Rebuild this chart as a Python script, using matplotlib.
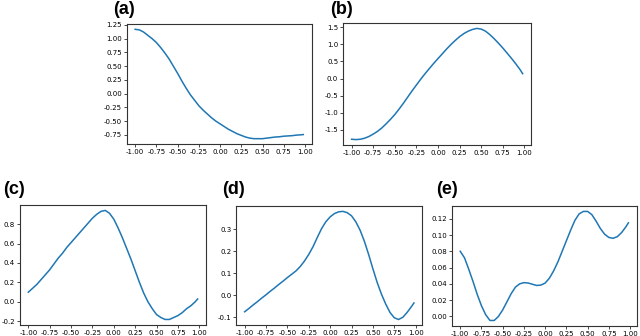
import numpy as np
import matplotlib
matplotlib.use("Agg")
import matplotlib.pyplot as plt
from matplotlib.ticker import FormatStrFormatter

# sample positions along x (-1 .. 0.98)
x = np.round(np.append(np.arange(-1.0, 0.951, 0.05), 0.98), 2)

y_a = [1.17, 1.16, 1.12, 1.06, 1.00, 0.93, 0.84, 0.74, 0.63, 0.50,
       0.37, 0.23, 0.10, -0.02, -0.12, -0.22, -0.30, -0.37, -0.44, -0.50,
       -0.55, -0.60, -0.65, -0.69, -0.73, -0.76, -0.79, -0.81, -0.82, -0.82,
       -0.82, -0.81, -0.80, -0.79, -0.785, -0.775, -0.77, -0.765, -0.755, -0.75,
       -0.745]

y_b = [-1.77, -1.78, -1.77, -1.74, -1.69, -1.62, -1.54, -1.44, -1.32, -1.19,
       -1.05, -0.89, -0.72, -0.54, -0.36, -0.19, -0.02, 0.14, 0.29, 0.44,
       0.58, 0.72, 0.86, 0.99, 1.11, 1.22, 1.31, 1.38, 1.43, 1.46,
       1.44, 1.38, 1.28, 1.16, 1.03, 0.89, 0.74, 0.59, 0.43, 0.26,
       0.14]

y_c = [0.10, 0.14, 0.18, 0.23, 0.28, 0.33, 0.39, 0.45, 0.50, 0.56,
       0.61, 0.66, 0.71, 0.76, 0.81, 0.86, 0.90, 0.93, 0.94, 0.91,
       0.85, 0.76, 0.66, 0.55, 0.44, 0.32, 0.20, 0.09, 0.00, -0.07,
       -0.13, -0.16, -0.18, -0.18, -0.16, -0.14, -0.11, -0.07, -0.04, 0.00,
       0.03]

y_d = [-0.075, -0.060, -0.044, -0.029, -0.013, 0.002, 0.018, 0.033, 0.049, 0.064,
       0.080, 0.095, 0.110, 0.130, 0.155, 0.185, 0.220, 0.262, 0.302, 0.333,
       0.355, 0.370, 0.378, 0.380, 0.374, 0.360, 0.333, 0.295, 0.245, 0.185,
       0.120, 0.058, 0.005, -0.040, -0.078, -0.102, -0.110, -0.100, -0.078, -0.052,
       -0.035]

y_e = [0.080, 0.072, 0.058, 0.043, 0.027, 0.013, 0.002, -0.005, -0.005, 0.000,
       0.008, 0.018, 0.028, 0.036, 0.040, 0.0415, 0.041, 0.0395, 0.038, 0.0385,
       0.041, 0.047, 0.056, 0.067, 0.080, 0.093, 0.106, 0.118, 0.126, 0.129,
       0.129, 0.125, 0.117, 0.108, 0.101, 0.097, 0.096, 0.098, 0.103, 0.110,
       0.115]

panel_labels = ['(a)', '(b)', '(c)', '(d)', '(e)']
xticks = [-1.0, -0.75, -0.5, -0.25, 0.0, 0.25, 0.5, 0.75, 1.0]
yticks = [
    [-0.75, -0.5, -0.25, 0.0, 0.25, 0.5, 0.75, 1.0, 1.25],
    [-1.5, -1.0, -0.5, 0.0, 0.5, 1.0, 1.5],
    [-0.2, 0.0, 0.2, 0.4, 0.6, 0.8],
    [-0.1, 0.0, 0.1, 0.2, 0.3],
    [0.0, 0.02, 0.04, 0.06, 0.08, 0.10, 0.12],
]
yfmt = ['%.2f', '%.1f', '%.1f', '%.1f', '%.2f']
series = [y_a, y_b, y_c, y_d, y_e]

fig = plt.figure(figsize=(6.4, 3.36), dpi=100)

# axes boxes [left, bottom, width, height] and label spots, in figure fraction
boxes = [
    [0.198, 0.571, 0.289, 0.358],
    [0.536, 0.568, 0.294, 0.364],
    [0.031, 0.033, 0.291, 0.357],
    [0.369, 0.033, 0.291, 0.354],
    [0.706, 0.030, 0.289, 0.357],
]
label_pos = [(0.177, 0.997), (0.516, 0.997), (0.005, 0.462), (0.347, 0.462), (0.681, 0.462)]

for i in range(5):
    ax = fig.add_axes(boxes[i])
    ax.plot(x, series[i], color='#1f77b4', linewidth=1.1)
    ax.set_xticks(xticks)
    ax.set_yticks(yticks[i])
    ax.xaxis.set_major_formatter(FormatStrFormatter('%.2f'))
    ax.yaxis.set_major_formatter(FormatStrFormatter(yfmt[i]))
    ax.tick_params(labelsize=5, length=2, width=0.5, pad=1.5)
    for sp in ax.spines.values():
        sp.set_linewidth(0.8)
        sp.set_color('#333333')
    fig.text(label_pos[i][0], label_pos[i][1], panel_labels[i],
             fontsize=13, fontweight='bold', family='Liberation Sans',
             ha='left', va='top')

fig.savefig('out.png', dpi=100)
